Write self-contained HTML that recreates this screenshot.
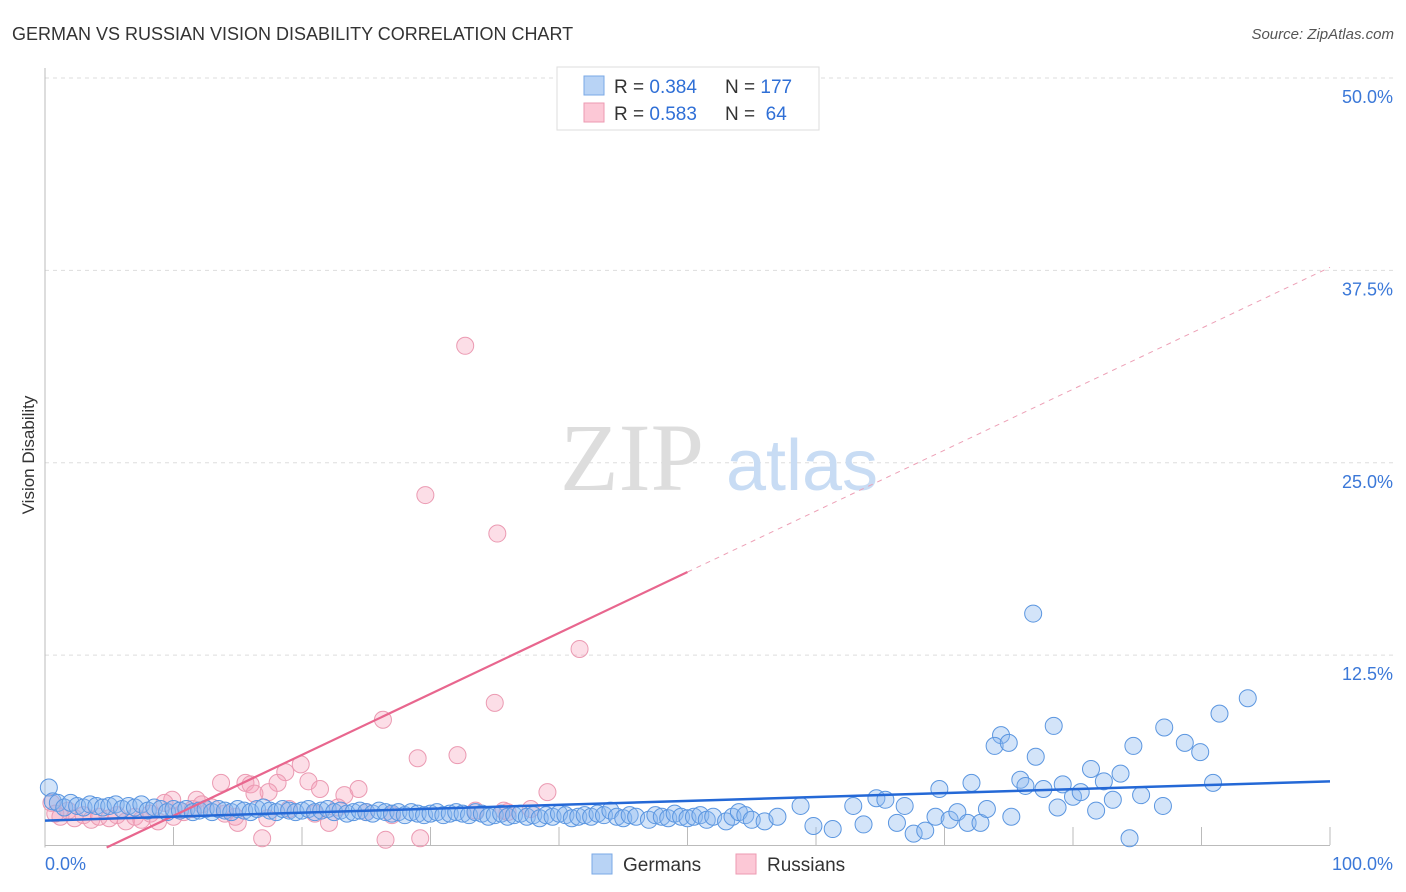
<!DOCTYPE html>
<html><head><meta charset="utf-8">
<style>
body{margin:0;background:#fff;font-family:"Liberation Sans",sans-serif;}
#wrap{position:relative;width:1406px;height:892px;overflow:hidden;}
</style></head>
<body>
<div id="wrap">
<svg id="svg" width="1406" height="892" xmlns="http://www.w3.org/2000/svg">
<text x="12" y="40" font-size="18" fill="#333">GERMAN VS RUSSIAN VISION DISABILITY CORRELATION CHART</text>
<text x="1394" y="39" font-size="15" fill="#555" font-style="italic" text-anchor="end">Source: ZipAtlas.com</text>
<text transform="translate(34,455) rotate(-90)" font-size="17" fill="#333" text-anchor="middle">Vision Disability</text>
<g id="grid"></g>
<g>
<text x="632" y="490" font-size="96" font-family="Liberation Serif,serif" fill="#ddd" text-anchor="middle">ZIP</text>
<text x="802" y="490" font-size="72" fill="#c8dcf4" text-anchor="middle">atlas</text>
</g>
<g id="axes"></g>
<g id="russians"></g>
<g id="germans"></g>
<g id="trends"></g>
<g>
<rect x="557" y="67" width="262" height="63" fill="#fff" stroke="#ddd"/>
<rect x="584" y="76" width="20" height="19" fill="#b8d3f5" stroke="#7aa8e6"/>
<rect x="584" y="103" width="20" height="19" fill="#fcc8d6" stroke="#ec9ab2"/>
<text x="614" y="93" font-size="19" fill="#333">R = <tspan fill="#2f6fd6">0.384</tspan></text>
<text x="725" y="93" font-size="19" fill="#333">N = <tspan fill="#2f6fd6">177</tspan></text>
<text x="614" y="120" font-size="19" fill="#333">R = <tspan fill="#2f6fd6">0.583</tspan></text>
<text x="725" y="120" font-size="19" fill="#333" xml:space="preserve">N =  <tspan fill="#2f6fd6">64</tspan></text>
</g>
<g>
<rect x="592" y="854" width="20" height="20" fill="#b8d3f5" stroke="#7aa8e6"/>
<text x="623" y="871" font-size="19" fill="#333">Germans</text>
<rect x="736" y="854" width="20" height="20" fill="#fcc8d6" stroke="#ec9ab2"/>
<text x="767" y="871" font-size="19" fill="#333">Russians</text>
</g>
</svg>
</div>
<script>
const yTicks=[12.5,25,37.5,50];
const yTickLabels=["12.5%","25.0%","37.5%","50.0%"];
const xTickLabels=["0.0%","100.0%"];
const germansX=[0.3,0.6,1,1.5,2,2.5,3,3.5,4,4.5,5,5.5,6,6.5,7,7.5,8,8.5,9,9.5,10,10.5,11,11.5,12,12.5,13,13.5,14,14.5,15,15.5,16,16.5,17,17.5,18,18.5,19,19.5,20,20.5,21,21.5,22,22.5,23,23.5,24,24.5,25,25.5,26,26.5,27,27.5,28,28.5,29,29.5,30,30.5,31,31.5,32,32.5,33,33.5,34,34.5,35,35.5,36,36.5,37,37.5,38,38.5,39,39.5,40,40.5,41,41.5,42,42.5,43,43.5,44,44.5,45,45.5,46,47,47.5,48,48.5,49,49.5,50,50.5,51,51.5,52,53,53.5,54,54.5,55,56,57,58.8,61.3,59.8,62.9,63.7,64.7,65.4,66.3,66.9,67.6,68.5,69.3,69.6,70.4,71.0,71.8,72.1,72.8,73.3,74.4,73.9,75.0,75.2,75.9,76.3,77.1,77.7,78.5,78.8,79.2,80.0,80.6,81.4,81.8,82.4,83.1,83.7,84.4,84.7,85.3,87.0,87.1,88.7,89.9,90.9,91.4,93.6,76.9];
const germansY=[3.9,3.0,2.9,2.6,2.9,2.7,2.6,2.8,2.7,2.6,2.7,2.8,2.5,2.7,2.6,2.8,2.4,2.6,2.5,2.3,2.5,2.4,2.5,2.3,2.4,2.5,2.3,2.5,2.4,2.3,2.5,2.4,2.3,2.5,2.6,2.4,2.3,2.5,2.4,2.3,2.4,2.5,2.3,2.4,2.5,2.3,2.4,2.2,2.3,2.4,2.3,2.2,2.4,2.3,2.2,2.3,2.1,2.3,2.2,2.1,2.2,2.3,2.1,2.2,2.3,2.2,2.1,2.3,2.2,2.0,2.1,2.2,2.0,2.1,2.2,2.0,2.1,1.9,2.1,2.0,2.2,2.1,1.9,2.0,2.1,2.0,2.2,2.1,2.4,2.0,1.9,2.1,2.0,1.8,2.1,2.0,1.9,2.2,2.0,1.9,2.0,2.1,1.8,2.0,1.7,2.0,2.3,2.1,1.8,1.7,2.0,2.7,1.2,1.4,2.7,1.5,3.2,3.1,1.6,2.7,0.9,1.1,2.0,3.8,1.8,2.3,1.6,4.2,1.6,2.5,7.3,6.6,6.8,2.0,4.4,4.0,5.9,3.8,7.9,2.6,4.1,3.3,3.6,5.1,2.4,4.3,3.1,4.8,0.6,6.6,3.4,2.7,7.8,6.8,6.2,4.2,8.7,9.7,15.2];
const russiansX=[32.7,29.6,35.2,41.6,35.0,26.3,32.1,29.0,39.1,13.7,15.6,16.0,18.7,19.9,20.5,18.1,21.4,23.3,24.4,16.9,26.5,29.2,22.1,17.4,16.3,15.0,9.9,11.8,35.7,37.8,21.0,17.3,0.5,0.8,1.2,1.8,2.3,3,3.6,4.2,5,5.6,6.3,7,7.5,8.2,8.8,9.3,10,10.8,11.5,12.2,13,14,14.8,19,22.8,25,27,33.5,36,50.0];
const russiansY=[32.6,22.9,20.4,12.9,9.4,8.3,6.0,5.8,3.6,4.2,4.2,4.1,4.9,5.4,4.3,4.2,3.8,3.4,3.8,0.6,0.5,0.6,1.6,3.6,3.5,1.6,3.1,3.1,2.4,2.5,2.2,1.9,2.9,2.2,2.0,2.4,1.9,2.1,1.8,2.0,1.9,2.1,1.7,2.0,1.8,2.2,1.7,2.9,2.0,2.3,2.5,2.8,2.6,2.2,2.0,2.5,2.6,2.3,2.1,2.4,2.3,49.7];
const germanTrend=[1.75,4.3];
const russianTrend=[-1.9,37.7];
const russianSolidEnd=50;

const X0=45,X1=1330,Y0=847.5,Y1=78;
const xs=v=>X0+(X1-X0)*v/100;
const ys=v=>Y0-(Y0-Y1)*v/50;
const NS="http://www.w3.org/2000/svg";
function mk(tag,attrs,parent){const e=document.createElementNS(NS,tag);for(const k in attrs)e.setAttribute(k,attrs[k]);parent.appendChild(e);return e;}
const grid=document.getElementById('grid'),axes=document.getElementById('axes');
yTicks.forEach((t,i)=>{
  const l=mk('line',{x1:X0,x2:1394,y1:ys(t),y2:ys(t),stroke:'#ddd','stroke-dasharray':'4,4'},grid);
  
  
  const tx=mk('text',{x:1393,y:ys(t)+25,'font-size':18,fill:'#3b78d8','text-anchor':'end'},axes);
  tx.textContent=yTickLabels[i];
  
  
});
mk('line',{x1:X0,x2:X0,y1:68,y2:Y0,stroke:'#bbb'},axes);
mk('line',{x1:X0,x2:X1,y1:845.5,y2:845.5,stroke:'#bbb'},axes);
for(let i=1;i<=10;i++){
  const x=xs(i*10);
  const tk=mk('line',{x1:x,x2:x,y1:827,y2:845,stroke:'#bbb'},axes);
  
  
}
const xl0=mk('text',{x:45,y:870,'font-size':18,fill:'#3b78d8'},axes);xl0.textContent=xTickLabels[0];


const xl1=mk('text',{x:1393,y:870,'font-size':18,fill:'#3b78d8','text-anchor':'end'},axes);xl1.textContent=xTickLabels[1];



const rg=document.getElementById('russians');
russiansX.forEach((v,i)=>{
  const c=mk('circle',{cx:xs(v),cy:ys(russiansY[i]),r:8.5,fill:'rgba(247,160,185,0.35)',stroke:'#eb9ab2','stroke-width':1},rg);
  
  
});
const gg=document.getElementById('germans');
germansX.forEach((v,i)=>{
  const c=mk('circle',{cx:xs(v),cy:ys(germansY[i]),r:8.5,fill:'rgba(140,185,240,0.38)',stroke:'#5b96e0','stroke-width':1},gg);
  
  
});
const tg=document.getElementById('trends');
const rAt=v=>russianTrend[0]+(russianTrend[1]-russianTrend[0])*v/100;
const zeroX=-russianTrend[0]/(russianTrend[1]-russianTrend[0])*100;
const rs=mk('line',{x1:xs(zeroX),y1:ys(0),x2:xs(russianSolidEnd),y2:ys(rAt(russianSolidEnd)),stroke:'#e8668e','stroke-width':2.2},tg);


const rd=mk('line',{x1:xs(russianSolidEnd),y1:ys(rAt(russianSolidEnd)),x2:xs(100),y2:ys(rAt(100)),stroke:'#eda0b6','stroke-width':1,'stroke-dasharray':'5,5'},tg);


const gl=mk('line',{x1:xs(0),y1:ys(germanTrend[0]),x2:xs(100),y2:ys(germanTrend[1]),stroke:'#2468d6','stroke-width':2.5},tg);


</script>
</body></html>
